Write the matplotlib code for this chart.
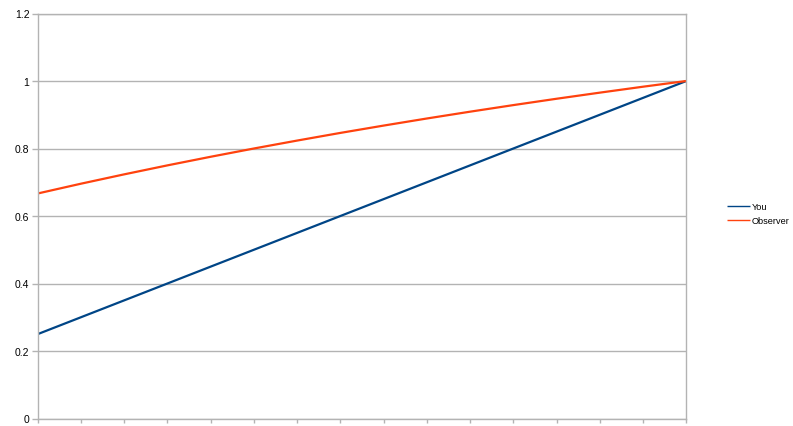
import matplotlib
matplotlib.use("Agg")
import matplotlib.pyplot as plt

x_index = list(range(16))
you = [0.25, 0.30, 0.35, 0.40, 0.45, 0.50, 0.55, 0.60, 0.65, 0.70,
       0.75, 0.80, 0.85, 0.90, 0.95, 1.00]
observer = [0.6667, 0.6957, 0.7234, 0.7500, 0.7755, 0.8000, 0.8235, 0.8462,
            0.8679, 0.8889, 0.9091, 0.9286, 0.9474, 0.9655, 0.9831, 1.0000]
y_ticks = [0, 0.2, 0.4, 0.6, 0.8, 1, 1.2]
y_labels = ["0", "0.2", "0.4", "0.6", "0.8", "1", "1.2"]

plt.rcParams['font.family'] = ['Liberation Sans', 'DejaVu Sans']

W, H = 793, 427
fig = plt.figure(figsize=(W / 100, H / 100), dpi=100)
ax = fig.add_axes([37.7 / W, 7.5 / H, (686.3 - 37.7) / W, (419.5 - 14.5) / H])

grid_c = '#b3b3b3'
ax.plot(x_index, you, color='#004586', lw=1.6, label='You', solid_capstyle='butt')
ax.plot(x_index, observer, color='#ff420e', lw=1.6, label='Observer', solid_capstyle='butt')

ax.set_xlim(0, 15)
ax.set_ylim(0, 1.2)
ax.set_yticks(y_ticks)
ax.set_yticklabels(y_labels)
ax.set_xticks(x_index)
ax.set_xticklabels([])
ax.yaxis.grid(True, color=grid_c, lw=1)
ax.set_axisbelow(True)
for s in ax.spines.values():
    s.set_color(grid_c)
    s.set_linewidth(1)
ax.tick_params(axis='x', direction='out', length=3, width=1, color=grid_c)
ax.tick_params(axis='y', direction='out', length=4, width=1, color=grid_c,
               labelsize=7.5, pad=2, labelcolor='black')

leg = fig.legend(loc='upper left', bbox_to_anchor=(727 / W, 1 - 203 / H),
                 frameon=False, fontsize=6.6, handlelength=2.5, handletextpad=0.2,
                 labelspacing=0.6, borderaxespad=0, borderpad=0)
for line in leg.get_lines():
    line.set_linewidth(1.0)

fig.savefig('out.png', dpi=100)
